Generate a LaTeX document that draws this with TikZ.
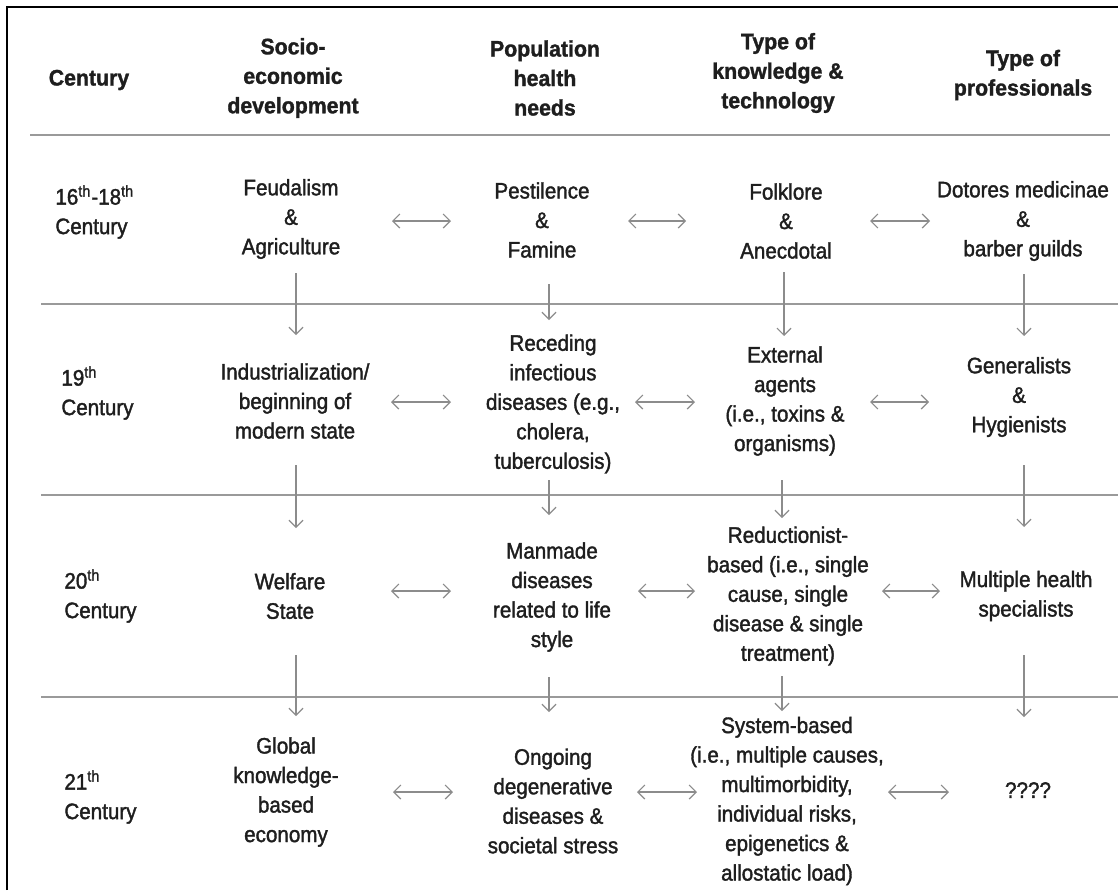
\documentclass[tikz,border=0pt]{standalone}
\usepackage{fontspec}
\newfontfamily\bodyfont{Liberation Sans}[FakeStretch=0.92,FakeBold=1.6]
\newfontfamily\headfont{Liberation Sans Bold}[FakeStretch=0.95,FakeBold=1.4]
\usetikzlibrary{arrows.meta}
\definecolor{txt}{HTML}{1E1E1E}
\definecolor{rule}{HTML}{9A9A9A}
\definecolor{arr}{HTML}{8C8C8C}
\begin{document}
\begin{tikzpicture}[x=0.5pt,y=-0.5pt,
  cell/.style={align=center,text=txt,inner sep=0pt,font=\fontsize{11.2}{14.75}\selectfont\bodyfont},
  head/.style={cell,font=\fontsize{11.2}{14.75}\selectfont\headfont},
  cent/.style={cell,align=left,anchor=west},
  sep/.style={draw=rule,line width=0.75pt},
  frame/.style={draw=black,line width=1pt},
  harrow/.style={draw=arr,line width=0.6pt,{Straight Barb[length=3.5pt,width=7pt]}-{Straight Barb[length=3.5pt,width=7pt]}},
  varrow/.style={draw=arr,line width=0.6pt,-{Straight Barb[length=3.5pt,width=7pt]}}
]
\useasboundingbox (0,0) rectangle (1118,890);
% frame (open at right and bottom)
\draw[frame] (7,890) -- (7,7) -- (1118,7);

% header row
\node[head] (h0) at (89,80) {Century};
\node[head] (h1) at (293,78) {Socio-\\economic\\development};
\node[head] (h2) at (545,78) {Population\\health\\needs};
\node[head] (h3) at (778,73) {Type of\\knowledge \&\\technology};
\node[head] (h4) at (1023,75) {Type of\\professionals};

% row separators
\draw[sep] (30,135) -- (1110,135);
\draw[sep] (41,304) -- (1118,304);
\draw[sep] (41,495) -- (1118,495);
\draw[sep] (41,697) -- (1118,697);

% century labels
\node[cent] (c1) at (55,212) {16\textsuperscript{th}-18\textsuperscript{th}\\Century};
\node[cent] (c2) at (61,393) {19\textsuperscript{th}\\Century};
\node[cent] (c3) at (64,596) {20\textsuperscript{th}\\Century};
\node[cent] (c4) at (64,797) {21\textsuperscript{th}\\Century};

% 16th-18th century
\node[cell] (r1a) at (291,219) {Feudalism\\\&\\Agriculture};
\node[cell] (r1b) at (542,220) {Pestilence\\\&\\Famine};
\node[cell] (r1c) at (786,221) {Folklore\\\&\\Anecdotal};
\node[cell] (r1d) at (1023,221) {Dotores medicinae\\\&\\barber guilds};

% 19th century
\node[cell] (r2a) at (295,401) {Industrialization/\\beginning of\\modern state};
\node[cell] (r2b) at (553,404) {Receding\\infectious\\diseases (e.g.,\\cholera,\\tuberculosis)};
\node[cell] (r2c) at (785,401) {External\\agents\\(i.e., toxins \&\\organisms)};
\node[cell] (r2d) at (1019,397) {Generalists\\\&\\Hygienists};

% 20th century
\node[cell] (r3a) at (290,596) {Welfare\\State};
\node[cell] (r3b) at (552,597) {Manmade\\diseases\\related to life\\style};
\node[cell] (r3c) at (788,596) {Reductionist-\\based (i.e., single\\cause, single\\disease \& single\\treatment)};
\node[cell] (r3d) at (1026,596) {Multiple health\\specialists};

% 21st century
\node[cell] (r4a) at (286,792) {Global\\knowledge-\\based\\economy};
\node[cell] (r4b) at (553,801) {Ongoing\\degenerative\\diseases \&\\societal stress};
\node[cell] (r4c) at (787,801) {System-based\\(i.e., multiple causes,\\multimorbidity,\\individual risks,\\epigenetics \&\\allostatic load)};
\node[cell] (r4d) at (1028,790) {????};

% arrow end points between columns
\foreach \r/\y/\a/\b/\c/\d/\e/\f in {1/221/392/451/628/686/870/930,
                                     2/402/391/451/635/695/870/929,
                                     3/591/391/451/638/695/882/940,
                                     4/792/393/453/637/697/888/949}{
  \coordinate (p\r a) at (\a,\y); \coordinate (q\r a) at (\b,\y);
  \coordinate (p\r b) at (\c,\y); \coordinate (q\r b) at (\d,\y);
  \coordinate (p\r c) at (\e,\y); \coordinate (q\r c) at (\f,\y);
  \draw[harrow] (p\r a) -- (q\r a);
  \draw[harrow] (p\r b) -- (q\r b);
  \draw[harrow] (p\r c) -- (q\r c);
}

% arrow end points between centuries
\foreach \k/\x/\ya/\yb in {
  1a/296/273/335, 1b/549/284/320, 1c/784/272/336, 1d/1024/274/336,
  2a/296/465/528, 2b/549/480/515, 2c/782/480/518, 2d/1024/465/527,
  3a/296/655/716, 3b/549/677/712, 3c/782/676/711, 3d/1024/655/717}{
  \coordinate (s\k) at (\x,\ya); \coordinate (t\k) at (\x,\yb);
  \draw[varrow] (s\k) -- (t\k);
}
\end{tikzpicture}
\end{document}
